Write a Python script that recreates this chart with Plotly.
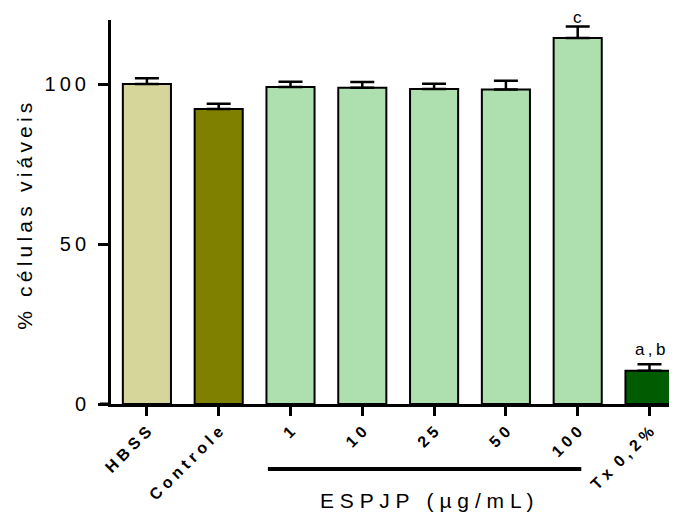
import plotly.graph_objects as go

# ---- data ----
categories = ["HBSS", "Controle", "1", "10", "25", "50", "100", "Tx 0,2%"]
means = [100.0, 92.2, 99.1, 98.8, 98.4, 98.3, 114.4, 10.4]
sem = [1.8, 1.6, 1.6, 1.8, 1.7, 2.7, 3.6, 2.0]
bar_colors = ["#D6D69B", "#808000", "#AEDFAE", "#AEDFAE", "#AEDFAE",
              "#AEDFAE", "#AEDFAE", "#005C00"]
y_ticks = [0, 50, 100]
letters = {"100": ("c", -3), "Tx 0,2%": ("a\u2009,\u2009b", 3)}
y_title = "% células viáveis"
group_title = "ESPJP (µg/mL)"
group_members = ["1", "100"]

FONT = "Arial, 'Liberation Sans', sans-serif"


def spaced(s, sep=" ", word=" "):
    words = s.split(" ")
    return word.join(sep.join(w) for w in words)


xpos = list(range(len(categories)))

fig = go.Figure(
    go.Bar(
        x=xpos,
        y=means,
        width=0.67,
        marker=dict(color=bar_colors, line=dict(color="black", width=2)),
        error_y=dict(type="data", array=sem, arrayminus=[0] * len(sem),
                     symmetric=False, color="black", thickness=2.5, width=12),
        showlegend=False,
    )
)

# page has an 8px body margin: figure is 8px smaller and margins shifted
fig.update_layout(
    width=669, height=507,
    margin=dict(l=103, r=0, t=12, b=111),
    plot_bgcolor="white", paper_bgcolor="white",
    font=dict(family=FONT, color="black"),
)

fig.update_xaxes(
    range=[-0.5, 7.383],
    tickvals=xpos,
    ticktext=[spaced(c, " ", "  ") for c in categories],
    tickangle=-45,
    tickfont=dict(family=FONT, size=16, color="black", weight="bold"),
    showline=True, linecolor="black", linewidth=3,
    ticks="outside", ticklen=9, tickwidth=3, tickcolor="black",
    showgrid=False, zeroline=False,
)
fig.update_yaxes(
    range=[0, 120],
    tickvals=y_ticks,
    ticktext=[spaced(str(v), "\u2009") for v in y_ticks],
    tickfont=dict(family=FONT, size=20, color="black"),
    ticklabelstandoff=8,
    showline=True, linecolor="black", linewidth=3,
    ticks="outside", ticklen=10, tickwidth=3, tickcolor="black",
    showgrid=False, zeroline=False,
)

# y-axis title
fig.add_annotation(
    text=spaced(y_title, "\u2009", "\u2009 \u2009"),
    xref="paper", yref="paper", x=-0.152, y=0.49,
    xanchor="center", yanchor="middle",
    textangle=-90, showarrow=False,
    font=dict(family=FONT, size=21, color="black"),
)

# significance letters
for cat, (lab, shift) in letters.items():
    i = categories.index(cat)
    fig.add_annotation(
        text=lab, x=i, y=means[i] + sem[i], xref="x", yref="y",
        yanchor="bottom", yshift=shift, showarrow=False,
        font=dict(family=FONT, size=17, color="black"),
    )

# left stub of x axis
fig.add_shape(type="line", xref="paper", yref="paper",
              x0=-0.0195, x1=0, y0=0, y1=0,
              line=dict(color="black", width=3))

# group bracket line + title
i0 = categories.index(group_members[0])
i1 = categories.index(group_members[1])
fig.add_shape(type="line", xref="x", yref="paper",
              x0=i0 - 0.315, x1=i1 + 0.05, y0=-0.169, y1=-0.169,
              line=dict(color="black", width=4))
fig.add_annotation(
    text=spaced(group_title, " ", "   "),
    xref="x", yref="paper", x=(i0 + i1) / 2 - 0.1, y=-0.25,
    showarrow=False, yanchor="middle",
    font=dict(family=FONT, size=21, color="black"),
)

fig.write_html("out.html")
